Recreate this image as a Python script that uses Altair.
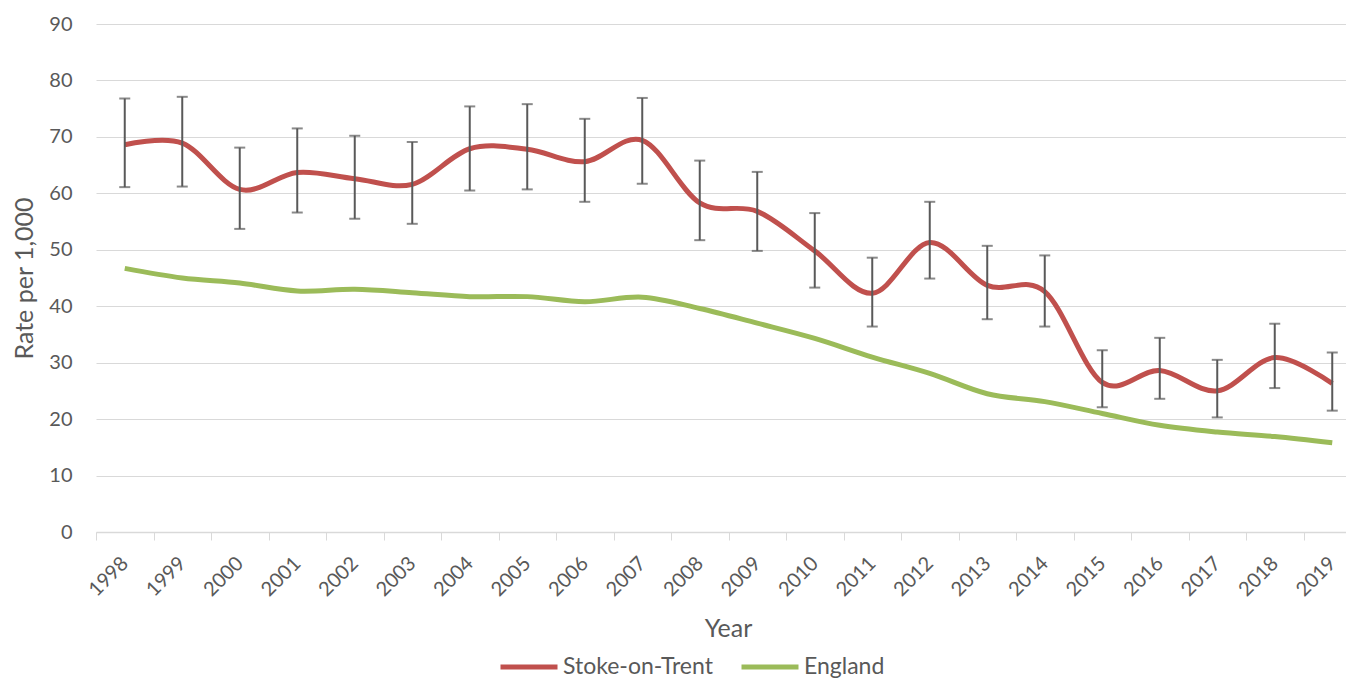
import altair as alt
import pandas as pd

years = list(range(1998, 2020))
stoke = [68.6, 68.9, 60.7, 63.7, 62.6, 61.6, 67.9, 67.8, 65.6, 69.4, 58.3,
         56.8, 49.8, 42.3, 51.3, 43.7, 42.6, 26.5, 28.6, 25.0, 30.9, 26.3]
stoke_upper = [76.8, 77.1, 68.1, 71.5, 70.2, 69.1, 75.4, 75.8, 73.2, 76.9, 65.8,
               63.8, 56.5, 48.6, 58.5, 50.7, 49.0, 32.2, 34.4, 30.5, 36.9, 31.8]
stoke_lower = [61.1, 61.2, 53.7, 56.6, 55.5, 54.6, 60.5, 60.7, 58.5, 61.7, 51.7,
               49.8, 43.3, 36.4, 44.9, 37.7, 36.4, 22.1, 23.6, 20.3, 25.5, 21.5]
england = [46.7, 45.0, 44.1, 42.7, 43.0, 42.4, 41.7, 41.7, 40.8, 41.6, 39.6,
           37.0, 34.3, 31.0, 28.1, 24.5, 23.1, 21.0, 18.9, 17.7, 16.9, 15.8]
series_names = ["Stoke-on-Trent", "England"]
series_colors = ["#c0504d", "#9bbb59"]
y_ticks = list(range(0, 91, 10))

df_lines = pd.DataFrame({
    "Year": years + years,
    "Rate": stoke + england,
    "Series": [series_names[0]] * len(years) + [series_names[1]] * len(years),
})
df_err = pd.DataFrame({"Year": years, "Rate": stoke, "Upper": stoke_upper, "Lower": stoke_lower})

FONT = "Lato"
TXT = "#595959"

x_scale = alt.Scale(type="band", domain=years, paddingInner=0, paddingOuter=0, range=[0, 1265])
y_scale = alt.Scale(domain=[0, 90], nice=False)

x_axis = alt.Axis(
    tickBand="extent", labelOverlap=False, labelAngle=-45, labelAlign="right",
    labelBaseline="middle", labelFont=FONT, labelFontSize=20, labelColor=TXT,
    labelPadding=20, ticks=True, tickSize=8, tickWidth=1, tickColor="#d9d9d9",
    domain=True, domainColor="#d9d9d9", domainWidth=1.5, grid=False,
    title="Year", titleFont=FONT, titleFontSize=25, titleFontWeight="normal",
    titleColor=TXT, titleX=632, titleY=84, titleAlign="center", titleBaseline="top",
)
y_axis = alt.Axis(
    values=y_ticks, grid=True, gridColor="#d9d9d9", gridWidth=1.2,
    domain=False, ticks=False, labelFont=FONT, labelFontSize=20, labelColor=TXT,
    labelPadding=24, title="Rate per 1,000", titleFont=FONT, titleFontSize=25,
    titleFontWeight="normal", titleColor=TXT, titlePadding=11,
)

X = alt.X("Year:O", scale=x_scale, axis=x_axis)
Y = alt.Y("Rate:Q", scale=y_scale, axis=y_axis)

lines = alt.Chart(df_lines).mark_line(interpolate="cardinal", strokeWidth=5).encode(
    x=X, y=Y,
    color=alt.Color(
        "Series:N",
        scale=alt.Scale(domain=series_names, range=series_colors),
        legend=alt.Legend(
            title=None, orient="none", direction="horizontal",
            legendX=402, legendY=612, symbolType="stroke", symbolSize=3249,
            symbolStrokeWidth=5, labelFont=FONT, labelFontSize=23, labelColor=TXT,
            columnPadding=18, labelOffset=3, padding=0,
        ),
    ),
)

err_rule = alt.Chart(df_err).mark_rule(color="#595959", strokeWidth=2).encode(
    x=X, y=alt.Y("Lower:Q", scale=y_scale, axis=y_axis), y2="Upper:Q"
)
cap_up = alt.Chart(df_err).mark_tick(orient="horizontal", color="#595959", size=11, thickness=2).encode(
    x=X, y=alt.Y("Upper:Q", scale=y_scale, axis=y_axis)
)
cap_lo = alt.Chart(df_err).mark_tick(orient="horizontal", color="#595959", size=11, thickness=2).encode(
    x=X, y=alt.Y("Lower:Q", scale=y_scale, axis=y_axis)
)

chart = alt.layer(lines, err_rule, cap_up, cap_lo).properties(
    width=1250, height=508,
    padding={"left": 88, "top": 16, "right": 0, "bottom": 148},
    autosize=alt.AutoSizeParams(type="none"),
    background="white",
).configure_view(strokeWidth=0)

chart.save("out.html", embed_options={"renderer": "svg", "actions": False})
